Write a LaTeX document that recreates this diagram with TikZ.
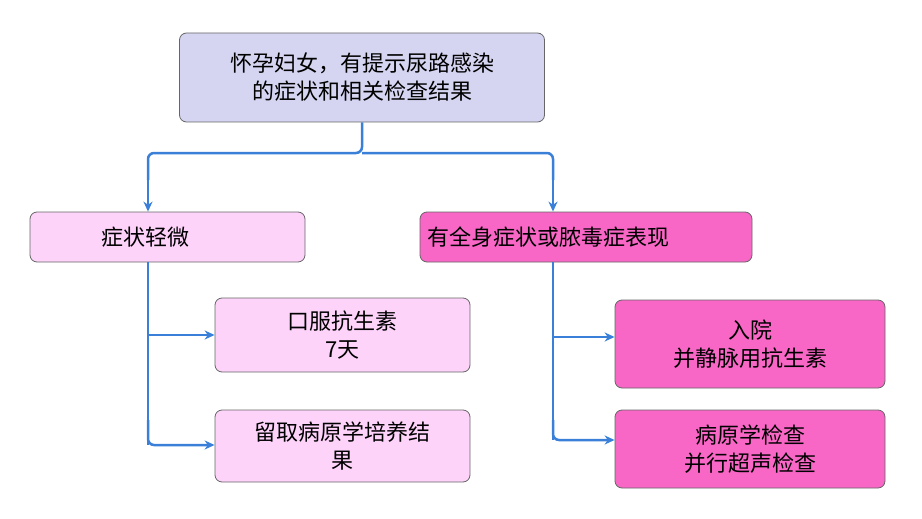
\documentclass[tikz,border=0pt]{standalone}
\usepackage{fontspec}
\setmainfont{Noto Sans CJK SC}
\usetikzlibrary{arrows.meta}
\definecolor{lav}{HTML}{D5D5F2}
\definecolor{lpink}{HTML}{FDD3FA}
\definecolor{mpink}{HTML}{F866C6}
\definecolor{lblue}{HTML}{3A7FD8}
\begin{document}
\begin{tikzpicture}[x=1pt,y=-1pt,
 box/.style={draw=black!60,line width=0.8pt,rounded corners=7pt,font=\fontsize{22}{28}\selectfont,align=center,inner sep=0pt},
 conn/.style={draw=lblue,line width=2.5pt,-{Stealth[length=10pt,width=9pt]}},
 line/.style={draw=lblue,line width=2.5pt}]
\useasboundingbox (0,0) rectangle (922,519);
\node[box,fill=lav,minimum width=365pt,minimum height=89pt] (top) at (362,77.5) {怀孕妇女，有提示尿路感染\\的症状和相关检查结果};
\node[box,fill=lpink,minimum width=275pt,minimum height=50pt,text width=255pt,align=left] (l) at (167.5,237) {\hspace{62pt}症状轻微};
\node[box,fill=mpink,minimum width=332pt,minimum height=50pt,text width=318pt,align=left] (r) at (586,237) {有全身症状或脓毒症表现};
\node[box,fill=lpink,minimum width=255pt,minimum height=74pt] (l1) at (342.5,335) {口服抗生素\\7天};
\node[box,fill=lpink,minimum width=255pt,minimum height=72pt] (l2) at (342.5,446) {留取病原学培养结\\果};
\node[box,fill=mpink,minimum width=270pt,minimum height=88pt] (r1) at (750,344) {入院\\并静脉用抗生素};
\node[box,fill=mpink,minimum width=270pt,minimum height=78pt] (r2) at (750,449) {病原学检查\\并行超声检查};
\coordinate (tb) at (362,153);
\coordinate (lt) at (148,153);
\coordinate (rt) at (553,153);
\coordinate (lb) at (148,262);
\coordinate (rb) at (553,262);
\draw[line,rounded corners=6pt] (top.south) -- (tb) -- (lt) -- (148,180);
\draw[line,rounded corners=6pt] (tb) -- (rt) -- (553,180);
\draw[conn] (148,178) -- (l.north -| lt);
\draw[conn] (553,178) -- (r.north -| rt);
\draw[line] (lb) -- (148,445);
\draw[conn] (148,335) -- (l1.west);
\draw[conn,rounded corners=6pt] (148,420) -- (148,445) -- (l2.west |- 0,445);
\draw[line] (rb) -- (553,440);
\draw[conn] (553,337) -- (r1.west |- 0,337);
\draw[conn,rounded corners=6pt] (553,420) -- (553,440) -- (r2.west |- 0,440);
\end{tikzpicture}
\end{document}
